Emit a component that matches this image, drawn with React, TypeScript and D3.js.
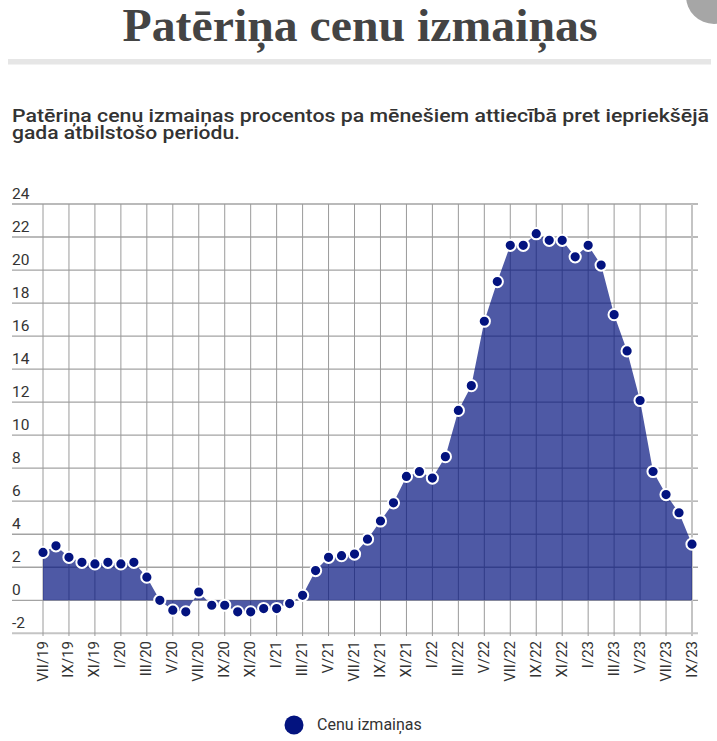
import React from "react";
import * as d3 from "d3";

const months = [
  "VII/19","VIII/19","IX/19","X/19","XI/19","XII/19",
  "I/20","II/20","III/20","IV/20","V/20","VI/20","VII/20","VIII/20","IX/20","X/20","XI/20","XII/20",
  "I/21","II/21","III/21","IV/21","V/21","VI/21","VII/21","VIII/21","IX/21","X/21","XI/21","XII/21",
  "I/22","II/22","III/22","IV/22","V/22","VI/22","VII/22","VIII/22","IX/22","X/22","XI/22","XII/22",
  "I/23","II/23","III/23","IV/23","V/23","VI/23","VII/23","VIII/23","IX/23",
];

const values = [
  2.9, 3.3, 2.6, 2.3, 2.2, 2.3,
  2.2, 2.3, 1.4, 0.0, -0.6, -0.7, 0.5, -0.3, -0.3, -0.7, -0.7, -0.5,
  -0.5, -0.2, 0.3, 1.8, 2.6, 2.7, 2.8, 3.7, 4.8, 5.9, 7.5, 7.8,
  7.4, 8.7, 11.5, 13.0, 16.9, 19.3, 21.5, 21.5, 22.2, 21.8, 21.8, 20.8,
  21.5, 20.3, 17.3, 15.1, 12.1, 7.8, 6.4, 5.3, 3.4,
];

const yTicks = [-2, 0, 2, 4, 6, 8, 10, 12, 14, 16, 18, 20, 22, 24];

const title = "Patēriņa cenu izmaiņas";
const subtitle1 = "Patēriņa cenu izmaiņas procentos pa mēnešiem attiecībā pret iepriekšējā";
const subtitle2 = "gada atbilstošo periodu.";
const seriesName = "Cenu izmaiņas";

const W = 717;
const H = 741;
const NAVY = "#03137f";
const SANS = "Roboto, 'Noto Sans', sans-serif";

export default function App() {
  const x = d3.scaleLinear().domain([0, months.length - 1]).range([43, 692]);
  const y = d3.scaleLinear().domain([-2, 24]).range([633.3, 204]);

  const area = d3
    .area<number>()
    .x((_, i) => x(i))
    .y0(y(0))
    .y1((d) => y(d))
    .curve(d3.curveLinear);

  const labelIdx = months.map((_, i) => i).filter((i) => i % 2 === 0);

  return (
    <svg
      width={W}
      height={H}
      style={{ position: "absolute", left: 0, top: 0, background: "#fff" }}
    >
      <rect x={0} y={0} width={W} height={H} fill="#fff" />
      <circle cx={714} cy={-4} r={28} fill="#a6a6a6" />
      <text
        x={360}
        y={41}
        textAnchor="middle"
        fontFamily="'Liberation Serif', 'Times New Roman', serif"
        fontWeight="bold"
        fontSize={47}
        fill="#444"
        textLength={475}
        lengthAdjust="spacingAndGlyphs"
      >
        {title}
      </text>
      <rect x={8} y={59} width={703} height={5.5} fill="#e6e6e6" />

      <text
        x={12}
        y={122}
        fontFamily={SANS}
        fontWeight={500}
        fontSize={18.5}
        fill="#333"
        textLength={697}
        lengthAdjust="spacingAndGlyphs"
      >
        {subtitle1}
      </text>
      <text
        x={12}
        y={139}
        fontFamily={SANS}
        fontWeight={500}
        fontSize={18.5}
        fill="#333"
        textLength={228}
        lengthAdjust="spacingAndGlyphs"
      >
        {subtitle2}
      </text>

      {/* horizontal grid */}
      {yTicks.map((t) => (
        <g key={"h" + t}>
          <line
            x1={12}
            x2={698}
            y1={y(t)}
            y2={y(t)}
            stroke={t === -2 ? "#c4c4c4" : "#a3a3a3"}
            strokeWidth={t === -2 ? 2 : 1.3}
          />
          <text
            x={12}
            y={y(t) - 5}
            fontFamily={SANS}
            fontSize={15.5}
            fill="#333"
          >
            {t}
          </text>
        </g>
      ))}

      {/* vertical grid */}
      {labelIdx.map((i) => (
        <line
          key={"v" + i}
          x1={x(i)}
          x2={x(i)}
          y1={204}
          y2={636}
          stroke={i === months.length - 1 ? "#c4c4c4" : "#9a9a9a"}
          strokeWidth={i === months.length - 1 ? 2 : 1}
        />
      ))}

      {/* area */}
      <path d={area(values) || ""} fill={NAVY} fillOpacity={0.7} stroke="none" />

      {/* markers */}
      {values.map((v, i) => (
        <circle
          key={"m" + i}
          cx={x(i)}
          cy={y(v)}
          r={5.6}
          fill={NAVY}
          stroke="#fff"
          strokeWidth={2}
        />
      ))}

      {/* x labels */}
      {labelIdx.map((i) => (
        <text
          key={"xl" + i}
          transform={`translate(${x(i) + 4.5},641) rotate(-90)`}
          textAnchor="end"
          fontFamily={SANS}
          fontSize={15}
          fill="#333"
        >
          {months[i]}
        </text>
      ))}

      {/* legend */}
      <circle cx={294} cy={725} r={9.5} fill={NAVY} />
      <text x={317} y={729.5} fontFamily={SANS} fontSize={16} fill="#333">
        {seriesName}
      </text>
    </svg>
  );
}
